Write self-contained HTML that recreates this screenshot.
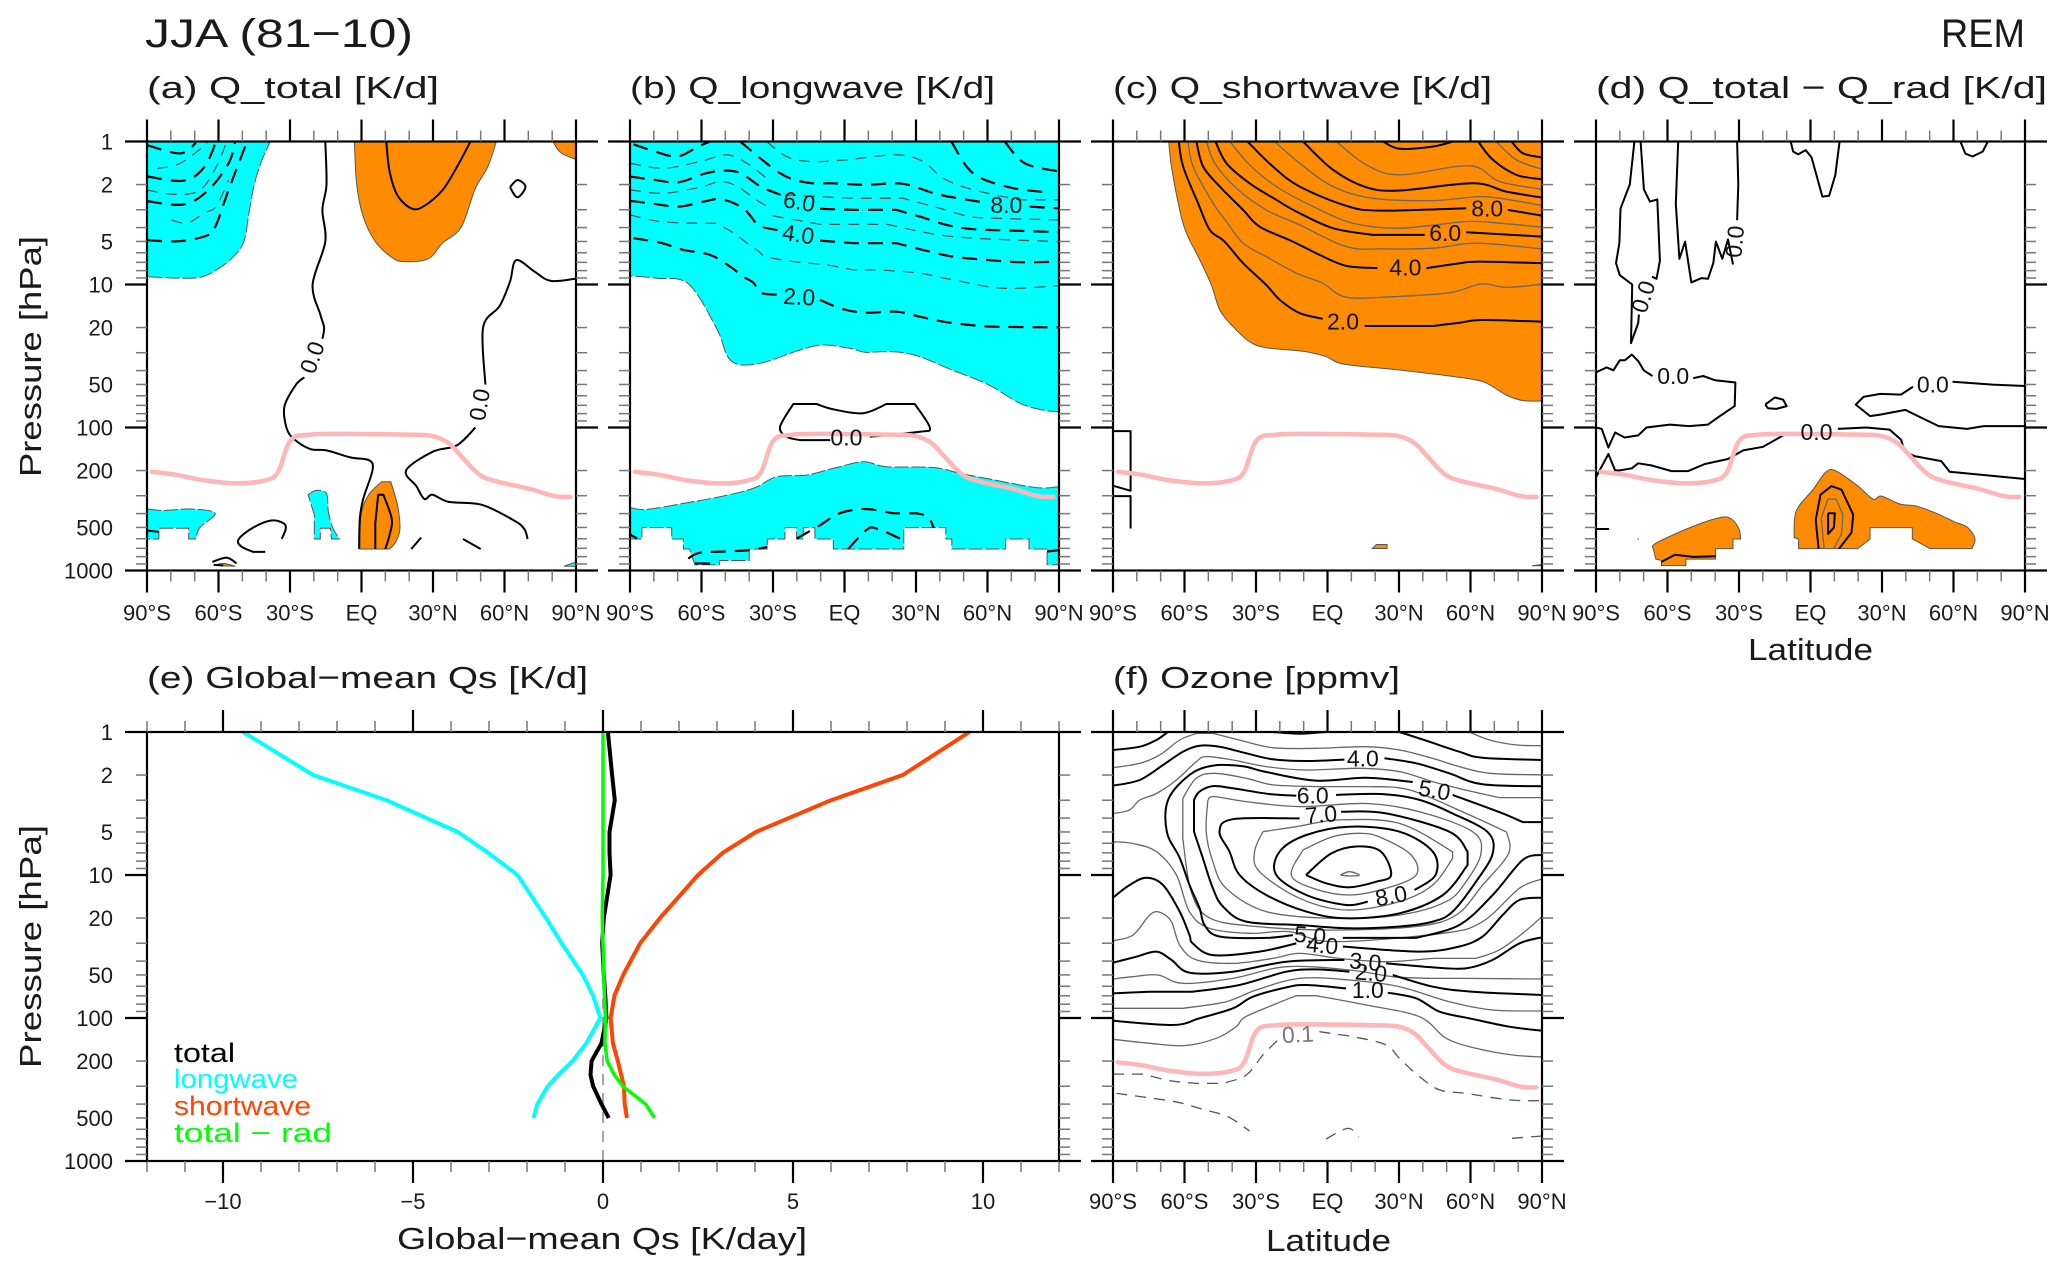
<!DOCTYPE html>
<html lang="en">
<head>
<meta charset="utf-8">
<title>JJA (81-10) REM heating rates</title>
<style>
html,body{margin:0;padding:0;background:#fff}
svg{display:block;position:absolute;left:0;top:0}
text{font-family:"Liberation Sans",sans-serif;fill:#1a1a1a}
</style>
</head>
<body>
<svg id="chart" xmlns="http://www.w3.org/2000/svg" width="2067" height="1275" viewBox="0 0 2067 1275">
<rect width="2067" height="1275" fill="#fff"/>
<g id="plots"></g>
<text x="145" y="47" font-size="40" textLength="268" lengthAdjust="spacingAndGlyphs">JJA (81−10)</text>
<text x="1941" y="47" font-size="40" textLength="84" lengthAdjust="spacingAndGlyphs">REM</text>
<text x="147" y="98" font-size="31" textLength="292" lengthAdjust="spacingAndGlyphs">(a) Q_total [K/d]</text>
<text x="630" y="98" font-size="31" textLength="365" lengthAdjust="spacingAndGlyphs">(b) Q_longwave [K/d]</text>
<text x="1113" y="98" font-size="31" textLength="379" lengthAdjust="spacingAndGlyphs">(c) Q_shortwave [K/d]</text>
<text x="1596" y="98" font-size="31" textLength="451" lengthAdjust="spacingAndGlyphs">(d) Q_total − Q_rad [K/d]</text>
<text x="147" y="688" font-size="31" textLength="441" lengthAdjust="spacingAndGlyphs">(e) Global−mean Qs [K/d]</text>
<text x="1113" y="688" font-size="31" textLength="287" lengthAdjust="spacingAndGlyphs">(f) Ozone [ppmv]</text>
<text transform="translate(41,477) rotate(-90)" font-size="31" textLength="241" lengthAdjust="spacingAndGlyphs">Pressure [hPa]</text>
<text transform="translate(41,1068) rotate(-90)" font-size="31" textLength="243" lengthAdjust="spacingAndGlyphs">Pressure [hPa]</text>
<text x="1748" y="660" font-size="31" textLength="125" lengthAdjust="spacingAndGlyphs">Latitude</text>
<text x="397" y="1249" font-size="31" textLength="410" lengthAdjust="spacingAndGlyphs">Global−mean Qs [K/day]</text>
<text x="1266" y="1251" font-size="31" textLength="125" lengthAdjust="spacingAndGlyphs">Latitude</text>
<text x="174" y="1062" font-size="27" textLength="61" lengthAdjust="spacingAndGlyphs" style="fill:#000">total</text>
<text x="174" y="1088" font-size="27" textLength="124" lengthAdjust="spacingAndGlyphs" style="fill:#00ffff">longwave</text>
<text x="174" y="1115" font-size="27" textLength="137" lengthAdjust="spacingAndGlyphs" style="fill:#ff4500">shortwave</text>
<text x="174" y="1142" font-size="27" textLength="158" lengthAdjust="spacingAndGlyphs" style="fill:#00ff00">total − rad</text>
</svg>
<script>
// Axis data
const pressureLabels = [1, 2, 5, 10, 20, 50, 100, 200, 500, 1000];
const pressureMinor = [1,2,3,4,5,6,7,8,9,10,20,30,40,50,60,70,80,90,100,200,300,400,500,600,700,800,900,1000];
const latMajor = [-90, -60, -30, 0, 30, 60, 90];
const latMinor = [-80,-70,-50,-40,-20,-10,10,20,40,50,70,80];
const latLabels = ['90°S', '60°S', '30°S', 'EQ', '30°N', '60°N', '90°N'];
const qMajor = [-10, -5, 0, 5, 10];
const qLabels = ['−10', '−5', '0', '5', '10'];
const qMinor = [-12,-11,-9,-8,-7,-6,-4,-3,-2,-1,1,2,3,4,6,7,8,9,11,12];

// All contour data below are [latitude, log10(pressure/hPa)] pairs
const tropopause = [[-88,2.31],[-78,2.33],[-66,2.37],[-52.4,2.39],[-40.4,2.37],[-35,2.31],[-29.8,2.09],[-21.6,2.05],[-6,2.045],[19.5,2.05],[29.8,2.06],[36.6,2.11],[41.8,2.2],[49.5,2.33],[57.3,2.38],[70.8,2.43],[81,2.48],[87.6,2.485]];

// Panel (a)
const aCyan = [
 [[-90,0],[-38.3,0],[-42,.14],[-45,.3],[-47.2,.5],[-49.4,.7],[-54,.81],[-61,.9],[-67.8,.95],[-78,.955],[-90,.945]],
 [[-90,2.57],[-83,2.58],[-71,2.57],[-61.4,2.6],[-67.8,2.7],[-69.5,2.78],[-72.5,2.78],[-72.5,2.705],[-85,2.705],[-85,2.78],[-90,2.78]],
 [[-22.4,2.47],[-19,2.44],[-14.7,2.46],[-13.9,2.59],[-12.1,2.7],[-9.2,2.78],[-12.6,2.78],[-13,2.705],[-17.3,2.705],[-17.3,2.78],[-19.8,2.78],[-19.8,2.61]],
 [[85,2.97],[90,2.94],[90,2.97]]
];
const aOrange = [
 [[-3,0],[-2,.3],[.7,.525],[5.8,.7],[12.7,.81],[17.8,.84],[28,.82],[34,.71],[41.8,.6],[47.7,.33],[52.9,.18],[56.6,0]],
 [[80.3,0],[83.7,.08],[90,.125],[90,0]],
 [[-.7,2.85],[-.2,2.61],[3,2.47],[8.4,2.38],[12.3,2.38],[15.2,2.55],[16.1,2.71],[14.4,2.8],[11.8,2.85]],
 [[-62,2.965],[-58,2.95],[-53,2.97]]
];
const aSolid = [
 [[10.4,0],[11.8,.21],[15.2,.38],[21.2,.47],[26.4,.45],[34,.34],[40,.18],[45.7,0]],
 [[-15.2,0],[-14.7,.3],[-16.4,.48],[-15.2,.7],[-20.5,1],[-17.3,1.21],[-15.7,1.3],[-16.4,1.38]],
 [[-24,1.65],[-27.5,1.7],[-32.3,1.85],[-31.5,2],[-28.4,2.08],[-21.6,2.15],[-14.7,2.16],[-4.4,2.21],[3.3,2.23],[4.6,2.3],[.7,2.5],[-.7,2.64],[-1,2.85]],
 [[89.7,.96],[79.4,.975],[72.6,.91],[64.9,.83],[62.3,.98],[58,1.15],[51,1.3],[52,1.7]],
 [[47.8,2],[40,2.125],[29.8,2.17],[18.7,2.3],[23,2.41],[26.4,2.5],[29.8,2.47],[36.6,2.52],[50.3,2.54],[64,2.65],[68.3,2.71],[69.7,2.78]],
 [[62.3,.32],[65.4,.27],[68.8,.317],[65.4,.39],[62.3,.32]],
 [[5.8,2.85],[5.8,2.67],[7,2.47],[9.2,2.47],[12.7,2.64],[11.8,2.75],[10,2.85]],
 [[-33.5,2.78],[-31.8,2.71],[-32.7,2.67],[-37.8,2.65],[-45.5,2.7],[-51.5,2.78],[-50.6,2.83],[-45.5,2.87],[-40.4,2.87]],
 [[20.9,2.85],[25,2.77]],
 [[42.6,2.78],[50,2.85]],
 [[-62.6,2.94],[-56.6,2.91],[-52.4,2.95]],
 [[-62,2.96],[-58,2.965]],
 [[-90,2.72],[-85,2.73]]
];
const aThin = [];
const aDashThick = [
 [[-90,.026],[-76,.083],[-69.5,.01]],
 [[-90,.245],[-74.6,.274],[-66,.18],[-61,0]],
 [[-90,.417],[-74.6,.44],[-64.3,.34],[-55.8,.154],[-53,0]],
 [[-90,.69],[-76.3,.697],[-64.3,.654],[-61,.583],[-55.8,.34],[-48,0]]
];
const aDashThin = [
 [[-85.7,.19],[-76.3,.154],[-67.8,.054],[-64.3,0]],
 [[-90,.34],[-78,.37],[-67.8,.34],[-61,.18],[-56.6,0]],
 [[-79.7,.55],[-73,.57],[-66,.5],[-61,.454],[-55.8,.27]]
];
const aLabels = [['0.0',-20.7,1.51,-70],['0.0',49.5,1.84,-80]];

// Panel (b)
const bCyan = [
 [[-90,0],[90,0],[90,1.89],[83.3,1.878],[73.5,1.83],[60.2,1.7],[45.5,1.6],[31.6,1.505],[23.2,1.474],[14.8,1.47],[8.5,1.474],[2.2,1.446],[-9,1.423],[-18.7,1.458],[-32.7,1.54],[-41,1.563],[-46,1.55],[-49.5,1.49],[-53.7,1.306],[-65.5,.996],[-78.8,.956],[-90,.94]],
 [[-90,2.56],[-83,2.573],[-66,2.526],[-52.3,2.484],[-38.3,2.426],[-28.5,2.344],[-16,2.333],[-4.7,2.286],[7.8,2.24],[17.6,2.274],[37.2,2.28],[48.3,2.32],[59.5,2.356],[80.5,2.42],[90,2.414],[90,2.96],[85,2.96],[85,2.85],[77.4,2.85],[77.4,2.78],[67.6,2.78],[67.6,2.85],[45,2.85],[45,2.78],[42.5,2.78],[42.5,2.7],[24.9,2.7],[24.9,2.85],[-4.7,2.85],[-4.7,2.78],[-12.4,2.78],[-12.4,2.7],[-17.3,2.7],[-17.3,2.78],[-20.1,2.78],[-20.1,2.7],[-25,2.7],[-25,2.78],[-32.4,2.78],[-32.4,2.85],[-40,2.85],[-40,2.93],[-52.5,2.93],[-52.5,2.96],[-62.8,2.96],[-65,2.85],[-67.6,2.85],[-67.6,2.78],[-72.5,2.78],[-72.5,2.7],[-85,2.7],[-85,2.78],[-90,2.78]]
];
const bOrange = [];
const bSolid = [
 [[10.6,2.064],[31.6,2.03],[35.8,2],[29.5,1.836],[17.6,1.836],[7.8,1.9],[-4.7,1.873],[-11.7,1.836],[-21.5,1.836],[-27,1.994],[-24.3,2.064],[-18.7,2.088],[-6,2.088]]
];
const bThin = [];
const bDashThick = [
 [[-88.6,.676],[-77.4,.707],[-67.6,.758],[-56.4,.793],[-48,.875],[-42.5,.945],[-38.3,.987],[-34.8,1.06],[-27,1.07]],
 [[-10.3,1.108],[-.6,1.173],[9.2,1.197],[21.8,1.19],[31.6,1.225],[41.4,1.26],[52.6,1.283],[63.7,1.295],[90,1.3]],
 [[-90,.415],[-80,.436],[-69.7,.455],[-59,.42],[-53.7,.403],[-48,.42],[-42.5,.467],[-39.8,.513],[-35.6,.59],[-27,.623]],
 [[-10.3,.693],[3.6,.711],[21.8,.711],[35.8,.77],[45.5,.805],[59.5,.828],[73.5,.844],[90,.84]],
 [[-90,.245],[-80,.268],[-69.7,.285],[-59,.226],[-50.6,.203],[-43.6,.222],[-35.2,.315],[-26.8,.373]],
 [[-10.3,.471],[3.6,.478],[21.8,.478],[31.6,.525],[42.8,.583],[54,.613],[70.8,.623],[90,.634]],
 [[-88.5,.02],[-81.6,.058],[-70.4,.105],[-61.4,.035],[-56.4,0]],
 [[-43.8,0],[-27,.222],[-15.8,.287],[-4.7,.292],[9.2,.303],[24.6,.296],[40,.373],[60,.43]],
 [[77.7,.455],[90,.467]],
 [[44.8,0],[53.9,.222],[69.2,.32],[84.7,.355]],
 [[67.2,0],[75.6,.152],[90,.21]],
 [[-65.6,2.916],[-60.7,2.876],[-49.5,2.867],[-39.7,2.857],[-32.4,2.835]],
 [[-62.7,2.95],[-56.4,2.95]],
 [[-20,2.776],[-10.3,2.683],[-2,2.6],[8.5,2.57],[20.4,2.6],[30.2,2.6],[35,2.624],[37.4,2.7]],
 [[1.5,2.85],[9.2,2.717],[13.4,2.706],[24.6,2.787]],
 [[85,2.867],[90,2.857]],
 [[-90,2.748],[-87,2.776]]
];
const bDashThin = [
 [[-90,.513],[-77.4,.56],[-60.6,.572],[-53.7,.572],[-46.6,.64],[-41,.71],[-36.8,.758],[-32.7,.805],[-21.5,.84],[-7.5,.863],[3.6,.898],[14.8,.898],[31.6,.921],[45.5,.968],[66.5,1.026],[90,1.008]],
 [[-90,.338],[-76,.362],[-60.6,.32],[-52,.28],[-45,.315],[-36.8,.41],[-31,.467]],
 [[-25,.373],[3.6,.397],[24.6,.397],[40,.467],[52.6,.525],[63.7,.537],[90,.548]],
 [[-90,.152],[-76,.187],[-60.6,.14],[-49.5,.093],[-41,.152],[-31,.28]],
 [[-32.7,0],[-24.3,.105],[-14.5,.14],[.8,.128],[21.8,.093],[33,.14],[41.4,.257],[54,.338],[73.5,.408],[90,.408]],
 [[-30,.52],[-10,.58],[18,.58],[45.5,.665],[90,.7]]
];
const bLabels = [['6.0',-19,.42,10],['4.0',-19.4,.648,8],['2.0',-19,1.085,3],['8.0',67.9,.443,0],['0.0',.8,2.07,0]];

// Panel (c)
const cCyan = [];
const cOrange = [
 [[-66.6,0],[-65.5,.175],[-62,.478],[-59.2,.64],[-53.6,.828],[-48.7,1.003],[-45.2,1.178],[-39.6,1.295],[-32.7,1.4],[-25.7,1.442],[-8.9,1.47],[-.5,1.505],[7.2,1.558],[30.3,1.598],[51.3,1.64],[65.2,1.68],[75,1.773],[82,1.812],[90,1.815],[90,0]],
 [[18.8,2.846],[20.5,2.818],[25,2.818],[25,2.846]],
 [[85.8,2.967],[90,2.958],[90,2.967]]
];
const cSolid = [
 [[-62.4,0],[-60.6,.175],[-54.3,.432],[-49.4,.618],[-43.2,.7],[-35.4,.851],[-25.7,1.003],[-20,1.108],[-11.7,1.2],[-2,1.24]],
 [[15.6,1.29],[44.3,1.29],[55.5,1.267],[65.2,1.248],[90,1.26]],
 [[-55,0],[-52.2,.175],[-45.2,.315],[-35.4,.478],[-28.5,.595],[-14.5,.7],[-3.3,.793],[7.9,.87],[21,.885]],
 [[41.5,.886],[55.5,.851],[63.9,.84],[90,.851]],
 [[-47,0],[-42.4,.152],[-32.7,.292],[-21.5,.408],[-13,.49],[2.3,.606],[19,.653],[40.8,.653]],
 [[58.2,.634],[90,.665]],
 [[-33.6,0],[-22.9,.175],[-11.7,.315],[7.9,.45],[21.9,.483],[58.2,.467]],
 [[75.7,.478],[90,.518]],
 [[-10.3,0],[2.3,.198],[16.3,.32],[30.3,.343],[61,.292],[75,.35],[90,.392]],
 [[23.3,0],[30.3,.051],[44.3,.035],[52.7,0]],
 [[63.2,0],[69.4,.128],[79.2,.233],[90,.264]],
 [[77.2,0],[82,.082],[90,.112]]
];
const cBox = [
 [[-90,2.025],[-82.6,2.025],[-82.6,2.443],[-90,2.407]],
 [[-90,2.48],[-82.6,2.48],[-82.6,2.706]]
];
const cThin = [
 [[-58.5,0],[-56.4,.175],[-48,.432],[-42.4,.56],[-35.4,.711],[-25.7,.805],[-13,.921],[-2,.991],[7.9,1.089],[27.5,1.085],[51.3,1.057],[64.6,.996],[75,1.02],[90,.998]],
 [[-50.8,0],[-47.3,.152],[-38.2,.327],[-25.7,.478],[-11.7,.583],[7.9,.735],[23.3,.751],[44.3,.746],[62.5,.711],[90,.751]],
 [[-41,0],[-32.7,.163],[-21.5,.315],[-6,.455],[10.7,.571],[30.3,.606],[58.2,.56],[72.2,.571],[90,.6]],
 [[-22.2,0],[-11.7,.152],[2.3,.315],[19.1,.397],[44.3,.413],[63.9,.385],[76.4,.408],[90,.448]],
 [[3.7,0],[16.3,.163],[30.3,.233],[59.7,.17],[72.2,.28],[90,.334]],
 [[70.8,0],[79.2,.128],[90,.194]]
];
const cDashThick = [];
const cDashThin = [];
const cLabels = [['8.0',67,.467,0],['6.0',49.4,.641,0],['4.0',32.7,.882,0],['2.0',6.5,1.26,0]];

// Panel (d)
const dCyan = [];
const dOrange = [
 [[-6.9,2.77],[-6,2.585],[1,2.435],[6.6,2.31],[10.8,2.305],[19.2,2.4],[26.2,2.5],[29.7,2.48],[37.4,2.535],[44.4,2.55],[52.8,2.6],[60.5,2.66],[66,2.7],[69,2.78],[67.7,2.847],[50.2,2.847],[45,2.8],[42.7,2.78],[42.7,2.7],[25,2.7],[25,2.78],[19.9,2.847],[-5,2.847],[-5,2.78]],
 [[-66,2.847],[-64.9,2.81],[-50.6,2.7],[-38,2.63],[-33.2,2.64],[-30,2.71],[-29.3,2.78],[-32.5,2.78],[-32.5,2.847],[-39.8,2.847],[-39.8,2.92],[-52.3,2.92],[-52.3,2.965],[-62.5,2.965],[-62.5,2.93],[-64.9,2.92]]
];
const dSolid = [
 [[-73.9,0],[-75.8,.3],[-79.7,.47],[-80.2,.71],[-81.6,.85],[-80,.935],[-74.8,1],[-75.3,1.41],[-72.3,1.27],[-72,1.21]],
 [[-66.5,.945],[-64.6,.96],[-63.2,.835],[-64.3,.405],[-67.4,.42],[-69.9,.335],[-71.3,0]],
 [[-55.5,0],[-56.5,.435],[-55,.82],[-52.6,.7],[-50,.985],[-45.7,.955],[-43,.96],[-40.8,.85],[-39.7,.7],[-37,.82],[-34.6,.685],[-32.5,.86]],
 [[-30.8,.55],[-30.3,.3],[-30.8,0]],
 [[-8.3,0],[-7.3,.07],[-5.2,.09],[-2,.06],[.4,.11],[5,.385],[7.8,.38],[10.4,.235],[12.2,0]],
 [[62.9,0],[65,.085],[68,.105],[72.3,.07],[74.4,0]],
 [[-90,1.615],[-85.5,1.58],[-82.7,1.6],[-80,1.53],[-77.9,1.53],[-75,1.49],[-72.3,1.535],[-70,1.6],[-66.3,1.64]],
 [[-49.2,1.655],[-45,1.64],[-40,1.67],[-31.5,1.685],[-31.8,1.85],[-38,1.92],[-43,1.98],[-51,1.99],[-59,1.98],[-68.8,2],[-72.3,2.055],[-78,2.07],[-82,2.035],[-84.8,2.14],[-87.6,2.01],[-90,2]],
 [[-19,1.84],[-15,1.79],[-11.5,1.805],[-10,1.85],[-14.3,1.87],[-17.8,1.865],[-19,1.84]],
 [[90,1.71],[76.4,1.7],[59.6,1.68]],
 [[43,1.715],[38,1.77],[29.3,1.765],[22.3,1.785],[19,1.84],[25,1.92],[29.3,1.91],[39.8,1.877],[47.5,1.94],[53.8,1.99],[65.7,2.01],[72.7,1.99],[90,1.99]],
 [[-90,2.347],[-84.8,2.185],[-82,2.3],[-80,2.3],[-75,2.285],[-72.3,2.25],[-66.8,2.265],[-58.3,2.305],[-51.3,2.305],[-44.3,2.255],[-34.6,2.22],[-28.3,2.16],[-19.9,2.135],[-11.5,2.055]],
 [[11.5,2.01],[23.4,2],[33.2,2.015],[38,2.085],[39.5,2.17],[43.6,2.2],[54.9,2.235],[58.4,2.31],[90,2.36]],
 [[3.4,2.847],[2.2,2.647],[4.2,2.47],[8.8,2.41],[13,2.435],[17.9,2.61],[17.2,2.735],[12,2.847]],
 [[7.4,2.6],[10.2,2.6],[9.8,2.7],[7.4,2.745],[7.4,2.6]],
 [[-62.5,2.94],[-56.9,2.89],[-49.2,2.905],[-39.8,2.9]],
 [[-90,2.71],[-84.5,2.71]],
 [[-72.4,2.78],[-72.2,2.78]]
];
const dThin = [
 [[5.7,2.847],[4.5,2.635],[7.3,2.5],[10.8,2.5],[13.6,2.61],[13,2.745],[9.7,2.847]]
];
const dDashThick = [];
const dDashThin = [];
const dLabels = [['0.0',-70.2,1.085,-72],['0.0',-31.8,.7,-85],['0.0',-57.6,1.64,0],['0.0',51.3,1.7,0],['0.0',2.5,2.03,0]];

// Panel (e): global-mean profile values
const ePressure = [1,2,3,5,7,10,20,30,50,70,100,150,200,250,300,400,500];
const eLongwave = [-9.47,-7.63,-5.7,-3.82,-3.02,-2.25,-1.5,-1.09,-.53,-.26,-.07,-.44,-.8,-1.18,-1.45,-1.73,-1.83];
const eShortwave = [9.64,7.89,6,4.02,3.15,2.5,1.5,.98,.53,.3,.2,.26,.39,.48,.55,.57,.63];
const eTotal = [.13,.24,.31,.17,.17,.2,.02,-.02,.02,.06,.09,-.04,-.3,-.33,-.26,-.04,.15];
const eTotalRad = [0,0,0,0,0,0,-.02,0,.02,.04,.06,.05,.11,.3,.52,1.12,1.36];

// Panel (f)
const fCyan = [];
const fOrange = [];
const fSolid = [
 [[-90,.126],[-78.8,.103],[-71.8,.056],[-67,0]],
 [[-23,0],[-11.7,.012],[-1,0]],
 [[30.2,0],[42.7,.068],[55.3,.138],[65,.18],[90,.196]],
 [[-90,.375],[-78.8,.336],[-69,.231],[-60.7,.138],[-53.7,.096],[-45.3,.103],[-34,.149],[-23,.191],[-9,.203],[7.1,.193]],
 [[23.9,.184],[37.2,.219],[51.1,.289],[65,.366],[90,.38]],
 [[90,.63],[81.9,.63],[72.1,.56],[52.5,.44]],
 [[35.8,.35],[16.2,.32],[-4.8,.34],[-25.7,.28],[-35.5,.24],[-48,.235],[-57.9,.3],[-66.9,.475],[-67.4,.7],[-62,.88],[-57.9,1.07],[-53.7,1.23],[-51.6,1.35],[-45.3,1.43],[-25.7,1.44],[-14.5,1.42]],
 [[6.4,1.44],[37.2,1.44],[55.3,1.35],[69.3,1.14],[81.9,.895],[90,.86]],
 [[3.6,.44],[23.2,.434],[38.6,.475],[52.5,.57],[67.2,.7],[69.3,.85],[62.3,1.047],[52.5,1.256],[44.2,1.326],[30.2,1.36],[9.2,1.373],[-11.7,1.35],[-34.1,1.326],[-43.9,1.22],[-48.1,1.093],[-52.3,.883],[-56,.697],[-56,.475],[-53.7,.417],[-48.1,.378],[-39.7,.394],[-24.3,.434],[-13.1,.445]],
 [[5.7,.557],[24.6,.569],[51.1,.697],[58.8,.837],[58.8,.93],[48.4,1.14],[30.2,1.268],[7.8,1.303],[-8.9,1.256],[-25.7,1.14],[-36.9,1],[-41.1,.837],[-45.3,.697],[-39.7,.61],[-11.7,.604]],
 [[16.9,1.186],[7.8,1.21],[-8.9,1.14],[-21.5,1],[-20.1,.837],[-8.9,.72],[9.2,.662],[30.2,.697],[44.2,.837],[45.3,1],[36.5,1.105]],
 [[-9,1],[1.5,.85],[12.7,.8],[22.5,.837],[26.7,1],[20.4,1.047],[9.2,1.086],[-.6,1.058],[-9,1]],
 [[-90,1.158],[-83,1.07],[-76,1.019],[-69,1.07],[-62,1.256],[-57.9,1.42],[-56.5,1.478],[-48.1,1.56],[-28.5,1.536],[-13.1,1.478]],
 [[6.4,1.5],[38.6,1.536],[55.3,1.5],[65.1,1.43],[73.5,1.28],[80.5,1.175],[90,1.158]],
 [[-90,1.613],[-80.2,1.571],[-71.8,1.536],[-65.5,1.594],[-57.9,1.683],[-39.7,1.676],[-17.3,1.606],[7.1,1.594]],
 [[24.6,1.618],[44.2,1.646],[58.1,1.653],[69.3,1.594],[80.5,1.478],[90,1.436]],
 [[-90,1.828],[-74.6,1.816],[-56.5,1.816],[-36.9,1.769],[-17.3,1.676],[-4.8,1.66],[9.2,1.676]],
 [[27.4,1.699],[44.2,1.781],[60.9,1.816],[90,1.839]],
 [[-90,2.019],[-64.8,2.049],[-53.7,2.002],[-39.7,1.932],[-31.3,1.851],[-17.3,1.786],[-8.9,1.769],[7.8,1.793]],
 [[25.3,1.823],[37.2,1.862],[47,1.956],[59.5,2.002],[76.3,2.061],[90,2.089]]
];
const fThin = [
 [[59.5,0],[68,.056],[79,.09],[90,.096]],
 [[-90,.25],[-78.8,.219],[-70.4,.16],[-62,.056],[-55,.01],[-48,.01],[-37,.056],[-23,.11],[-4.7,.114],[16.2,.103],[30.2,.126],[44,.184],[55.3,.242],[68,.289],[90,.3]],
 [[-90,.57],[-83,.545],[-78.8,.476],[-71.8,.43],[-63.4,.336],[-55,.207],[-50.9,.172],[-39.7,.196],[-25.7,.242],[-9,.266],[13.4,.254],[30.2,.277],[44,.347],[58,.406],[72.1,.459],[90,.459]],
 [[-90,.767],[-81.6,.78],[-71.8,.837],[-63.4,1],[-57.9,1.257],[-49.5,1.373],[-32.7,1.408],[-15.9,1.396],[2.2,1.466],[48.4,1.408],[65.1,1.326],[80.5,1.093],[90,1.028]],
 [[75.2,.7],[76,.85],[65.1,1.07],[54,1.28],[37.2,1.36],[2.2,1.385],[-29.9,1.36],[-49.5,1.3],[-57.2,1.117],[-60.7,.744],[-60.7,.464],[-55.1,.324],[-47.4,.289],[-34.1,.324],[-22.9,.37],[-4.8,.382],[16.2,.382],[34.4,.405],[59.5,.58],[75.2,.7]],
 [[-50.2,.475],[-47.4,.452],[-34.1,.487],[-11.7,.522],[16.2,.5],[38.6,.557],[60.9,.697],[64.4,.85],[58.1,1.047],[49.8,1.186],[30.2,1.28],[2.2,1.303],[-25.7,1.256],[-42.5,1.093],[-48.1,.907],[-50.9,.697],[-50.2,.475]],
 [[-27.1,.697],[-13.1,.662],[5,.615],[30.2,.639],[52.5,.837],[52.5,.883],[44.2,1.07],[30.2,1.186],[7.8,1.245],[-11.7,1.163],[-28.5,.977],[-30.6,.837],[-27.1,.697]],
 [[-10.3,.825],[2.2,.732],[14.8,.709],[23.2,.744],[35.1,.86],[37.2,1],[24.6,1.093],[9.2,1.14],[-6.1,1.093],[-15.2,1],[-10.3,.825]],
 [[5.4,1],[9.2,.977],[13.4,1],[9.2,1.007],[5.4,1]],
 [[-90,1.46],[-81.6,1.42],[-74.6,1.28],[-70.4,1.26],[-65.5,1.326],[-62,1.49],[-55,1.594],[-39.7,1.618],[-22.9,1.583],[-11.7,1.548],[5,1.583],[24.6,1.606],[44.2,1.583],[62.3,1.583],[72.1,1.524],[81.9,1.408],[90,1.29]],
 [[-90,1.727],[-81.6,1.711],[-71.1,1.699],[-60.7,1.758],[-39.7,1.723],[-17.3,1.641],[9.2,1.664],[27.4,1.711],[44.2,1.723],[58.1,1.723],[90,1.727]],
 [[-90,1.932],[-74.6,1.932],[-60.7,1.932],[-42.5,1.886],[-29.9,1.804],[-11.7,1.723],[9.2,1.734],[30.2,1.781],[51.1,1.886],[69.3,1.944],[90,1.951]],
 [[-90,2.149],[-74.6,2.177],[-60,2.193],[-46.7,2.142],[-38.3,2.061],[-34.8,1.995],[-22.9,1.909],[-13.1,1.844],[-4.8,1.844],[16.2,1.909],[38.6,1.991],[49.8,2.142],[62.3,2.212],[77.7,2.259],[90,2.273]]
];
const fDashThick = [];
const fDashThin = [
 [[-90,2.392],[-77.4,2.392],[-66.2,2.438],[-55.1,2.457],[-43.9,2.457],[-34.1,2.399],[-27.1,2.259],[-20.1,2.142]],
 [[-3.4,2.096],[12,2.135],[24.6,2.189],[30.2,2.282],[38.6,2.41],[47,2.503],[58.1,2.527],[76.3,2.573],[90,2.578]],
 [[-88.6,2.527],[-73.2,2.562],[-62,2.592],[-52.3,2.639],[-41.8,2.69],[-32.7,2.79]],
 [[-.6,2.846],[8.5,2.772],[13.1,2.83]],
 [[77.4,2.841],[90,2.825]]
];
const fLabels = [['4.0',14.8,.184,0],['5.0',44.9,.406,10],['6.0',-6.2,.445,0],['7.0',-2.7,.576,-5],['8.0',26.7,1.145,-10],['5.0',-7.3,1.42,5],['4.0',-2.2,1.49,5],['3.0',15.9,1.606,5],['2.0',18.3,1.683,5],['1.0',16.9,1.804,0]];
const fGrayLabels = [['0.1',-12.4,2.114,-3]];

const NS = 'http://www.w3.org/2000/svg';
const root = document.getElementById('plots');

function mk(tag, name, parent) {
  const el = document.createElementNS(NS, tag);
  
  
  (parent || root).appendChild(el);
  return el;
}
function linePath(pts) {
  return pts.map((q, i) => (i ? 'L' : 'M') + q[0].toFixed(1) + ' ' + q[1].toFixed(1)).join('');
}
function isStraight(a, b) {
  return Math.abs(a[0] - b[0]) < 0.01 || Math.abs(a[1] - b[1]) < 0.01;
}
// Catmull-Rom through the points; axis-aligned segments stay straight so block edges keep their corners
function smoothPath(pts) {
  if (pts.length < 3) return linePath(pts);
  let d = 'M' + pts[0][0].toFixed(1) + ' ' + pts[0][1].toFixed(1);
  for (let i = 0; i < pts.length - 1; i++) {
    const p1 = pts[i], p2 = pts[i + 1];
    if (isStraight(p1, p2)) {
      d += 'L' + p2[0].toFixed(1) + ' ' + p2[1].toFixed(1);
      continue;
    }
    const prev = i > 0 ? pts[i - 1] : p1, next = i + 2 < pts.length ? pts[i + 2] : p2;
    const p0 = isStraight(prev, p1) ? p1 : prev;
    const p3 = isStraight(p2, next) ? p2 : next;
    const c1x = p1[0] + (p2[0] - p0[0]) / 6, c1y = p1[1] + (p2[1] - p0[1]) / 6;
    const c2x = p2[0] - (p3[0] - p1[0]) / 6, c2y = p2[1] - (p3[1] - p1[1]) / 6;
    d += 'C' + c1x.toFixed(1) + ' ' + c1y.toFixed(1) + ' ' + c2x.toFixed(1) + ' ' + c2y.toFixed(1) + ' ' + p2[0].toFixed(1) + ' ' + p2[1].toFixed(1);
  }
  return d;
}
function tick(g, name, x1, y1, x2, y2, major) {
  const t = mk('line', name, g);
  t.setAttribute('x1', x1); t.setAttribute('y1', y1); t.setAttribute('x2', x2); t.setAttribute('y2', y2);
  t.setAttribute('stroke', major ? '#000' : '#777');
  t.setAttribute('stroke-width', major ? 2.2 : 1.5);
}
function tickLabel(g, name, str, x, y, anchor) {
  const t = mk('text', name, g);
  t.setAttribute('x', x); t.setAttribute('y', y);
  t.setAttribute('text-anchor', anchor);
  t.setAttribute('font-size', 22);
  t.textContent = str;
}

function frame(g, box, xPos, majors, minors, labels, showY) {
  const left = box.x0, right = box.x0 + box.w, top = box.y0, bot = box.y0 + box.h;
  const rect = mk('rect', 'plot-frame', g);
  rect.setAttribute('x', left); rect.setAttribute('y', top);
  rect.setAttribute('width', box.w); rect.setAttribute('height', box.h);
  rect.setAttribute('fill', 'none'); rect.setAttribute('stroke', '#000'); rect.setAttribute('stroke-width', 2.2);
  minors.forEach(v => {
    tick(g, 'x-minor-tick-top', xPos(v), top, xPos(v), top - 11, false);
    tick(g, 'x-minor-tick-bottom', xPos(v), bot, xPos(v), bot + 11, false);
  });
  majors.forEach((v, i) => {
    tick(g, 'x-major-tick-top', xPos(v), top, xPos(v), top - 22, true);
    tick(g, 'x-major-tick-bottom', xPos(v), bot, xPos(v), bot + 22, true);
    tickLabel(g, 'x-tick-label', labels[i], xPos(v), bot + box.labelGap, 'middle');
  });
  const yP = p => box.y0 + Math.log10(p) / 3 * box.h;
  pressureMinor.forEach(p => {
    const major = p === 1 || p === 10 || p === 100 || p === 1000;
    tick(g, 'y-tick-left', left, yP(p), left - (major ? 22 : 11), yP(p), major);
    tick(g, 'y-tick-right', right, yP(p), right + (major ? 22 : 11), yP(p), major);
  });
  if (showY) pressureLabels.forEach(p => {
    tickLabel(g, 'y-tick-label', String(p), 113, yP(p) + 8, 'end');
  });
}

function latPanel(id, box, sets, showY) {
  const g = mk('g', 'panel-' + id);
  const xLat = lat => box.x0 + (lat + 90) / 180 * box.w;
  const yLog = lp => box.y0 + lp / 3 * box.h;
  const toPx = pts => pts.map(q => [xLat(q[0]), yLog(q[1])]);
  const fill = (arr, color, stroke, dash, name) => arr.forEach(pts => {
    const el = mk('path', name, g);
    el.setAttribute('d', smoothPath(toPx(pts)) + 'Z');
    el.setAttribute('fill', color);
    el.setAttribute('stroke', stroke);
    el.setAttribute('stroke-width', 1);
    if (dash) el.setAttribute('stroke-dasharray', dash);
  });
  fill(sets.cyan, '#00ffff', '#555', '14 3', 'negative-shading');
  fill(sets.orange, '#ff8c00', '#555', '', 'positive-shading');
  const draw = (arr, color, w, dash, name, jagged) => arr.forEach(pts => {
    const el = mk('path', name, g);
    el.setAttribute('d', (sets.smooth && !jagged ? smoothPath : linePath)(toPx(pts)));
    el.setAttribute('fill', 'none');
    el.setAttribute('stroke', color);
    el.setAttribute('stroke-width', w);
    el.setAttribute('stroke-linejoin', 'round');
    if (dash) el.setAttribute('stroke-dasharray', dash);
  });
  draw(sets.thin, '#666', 1.3, '', 'contour-minor');
  draw(sets.dashThin, '#555', 1.3, '11 8', 'contour-minor-dashed');
  draw(sets.solid, '#000', 2, '', 'contour-major');
  draw(sets.dashThick, '#000', 2.2, '15 9', 'contour-major-dashed');
  draw(sets.blocks || [], '#000', 2, '', 'contour-boundary-box', true);
  const tp = mk('path', 'tropopause-line', g);
  tp.setAttribute('d', smoothPath(toPx(tropopause)));
  tp.setAttribute('fill', 'none');
  tp.setAttribute('stroke', '#ffb6b6');
  tp.setAttribute('stroke-width', 4.5);
  tp.setAttribute('stroke-linejoin', 'round');
  tp.setAttribute('stroke-linecap', 'round');
  const lab = (arr, color) => arr.forEach(L => {
    const t = mk('text', 'contour-label', g);
    const px = xLat(L[1]), py = yLog(L[2]);
    t.setAttribute('transform', 'translate(' + px.toFixed(1) + ',' + py.toFixed(1) + ') rotate(' + L[3] + ')');
    t.setAttribute('text-anchor', 'middle');
    t.setAttribute('dy', '8');
    t.setAttribute('font-size', 23);
    t.setAttribute('style', 'fill:' + color);
    t.textContent = L[0];
  });
  lab(sets.labels, '#111');
  lab(sets.grayLabels || [], '#777');
  frame(g, box, xLat, latMajor, latMinor, latLabels, showY);
}

function profilePanel() {
  const box = {x0: 147, w: 912, y0: 732, h: 429, labelGap: 48};
  const g = mk('g', 'panel-e');
  const xQ = v => box.x0 + (v + 12) / 24 * box.w;
  const yP = p => box.y0 + Math.log10(p) / 3 * box.h;
  const zero = mk('line', 'zero-line', g);
  zero.setAttribute('x1', xQ(0)); zero.setAttribute('x2', xQ(0));
  zero.setAttribute('y1', yP(1)); zero.setAttribute('y2', yP(1000));
  zero.setAttribute('stroke', '#888'); zero.setAttribute('stroke-width', 1.5);
  zero.setAttribute('stroke-dasharray', '11 8');
  const series = (vals, color, name, w) => {
    const el = mk('path', name, g);
    el.setAttribute('d', linePath(vals.map((v, i) => [xQ(v), yP(ePressure[i])])));
    el.setAttribute('fill', 'none');
    el.setAttribute('stroke', color);
    el.setAttribute('stroke-width', w);
    el.setAttribute('stroke-linejoin', 'round');
  };
  series(eLongwave, '#00ffff', 'longwave-profile', 4);
  series(eShortwave, '#ff4500', 'shortwave-profile', 4);
  series(eTotal, '#000000', 'total-profile', 4);
  series(eTotalRad, '#00ff00', 'total-minus-rad-profile', 3.5);
  frame(g, box, xQ, qMajor, qMinor, qLabels, true);
}

const H = 429, TOP = 141.5;
latPanel('a', {x0: 147, w: 429, y0: TOP, h: H, labelGap: 50}, {cyan: aCyan, orange: aOrange, solid: aSolid, thin: aThin, dashThick: aDashThick, dashThin: aDashThin, labels: aLabels, smooth: true}, true);
latPanel('b', {x0: 630, w: 429, y0: TOP, h: H, labelGap: 50}, {cyan: bCyan, orange: bOrange, solid: bSolid, thin: bThin, dashThick: bDashThick, dashThin: bDashThin, labels: bLabels, smooth: true}, false);
latPanel('c', {x0: 1113, w: 429, y0: TOP, h: H, labelGap: 50}, {cyan: cCyan, orange: cOrange, solid: cSolid, blocks: cBox, thin: cThin, dashThick: cDashThick, dashThin: cDashThin, labels: cLabels, smooth: true}, false);
latPanel('d', {x0: 1596, w: 429, y0: TOP, h: H, labelGap: 50}, {cyan: dCyan, orange: dOrange, solid: dSolid, thin: dThin, dashThick: dDashThick, dashThin: dDashThin, labels: dLabels}, false);
profilePanel();
latPanel('f', {x0: 1113, w: 429, y0: 732, h: H, labelGap: 48}, {cyan: fCyan, orange: fOrange, solid: fSolid, thin: fThin, dashThick: fDashThick, dashThin: fDashThin, labels: fLabels, grayLabels: fGrayLabels, smooth: true}, false);
</script>
</body>
</html>
